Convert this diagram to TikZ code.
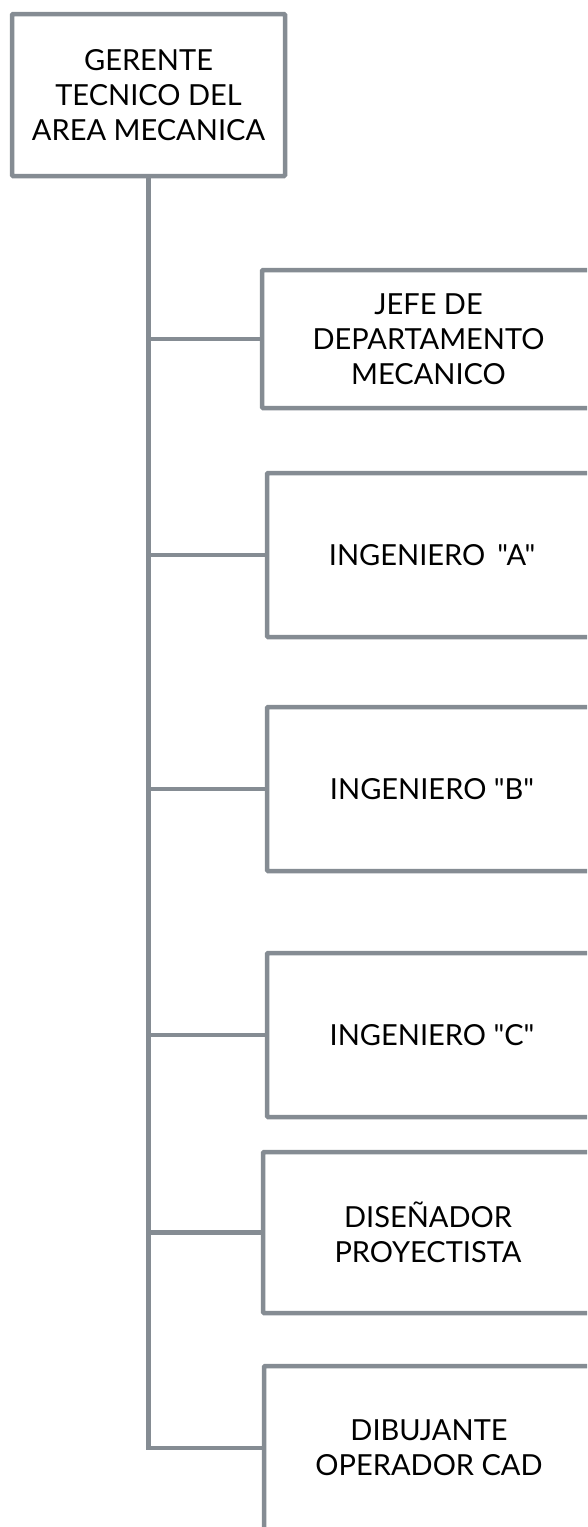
\documentclass[tikz,border=0pt]{standalone}
\usepackage{fontspec}
% plain straight quotes: no TeX input mapping
\setmainfont{Lato}[Ligatures=TeXOff]
\definecolor{frame}{RGB}{133,140,147}
\begin{document}
\begin{tikzpicture}[x=1pt,y=-1pt,
  post/.style={draw=frame, line width=4.5pt, fill=white, rounded corners=1pt,
    inner sep=0pt, outer sep=0pt, align=center, text=black,
    font=\fontsize{29}{35}\selectfont},
  link/.style={draw=frame, line width=4.5pt}]
  \useasboundingbox (0,0) rectangle (587,1527);
  \clip (0,0) rectangle (587,1527);

  % head of the area
  \node[post, minimum width=273pt, minimum height=162pt] (ger) at (148.5,95)
    {GERENTE\\TECNICO DEL\\AREA MECANICA};

  % subordinate posts
  \node[post, minimum width=333pt, minimum height=138pt] (jefe) at (428.5,339)
    {JEFE DE\\DEPARTAMENTO\\MECANICO};
  \node[post, minimum width=330pt, minimum height=164pt] (inga) at (432,555)
    {INGENIERO\hspace{12pt}"A"};
  \node[post, minimum width=330pt, minimum height=164pt] (ingb) at (432,789)
    {INGENIERO "B"};
  \node[post, minimum width=330pt, minimum height=164pt] (ingc) at (432,1035)
    {INGENIERO "C"};
  \node[post, minimum width=330pt, minimum height=161pt] (dis) at (428,1232.5)
    {DISEÑADOR\\PROYECTISTA};
  \node[post, minimum width=330pt, minimum height=164pt] (dib) at (429,1448)
    {DIBUJANTE\\OPERADOR CAD};

  % trunk and branches
  \draw[link] (ger.south) |- (dib.west);
  \foreach \n in {jefe,inga,ingb,ingc,dis}
    \draw[link] (ger.south |- \n.west) -- (\n.west);
\end{tikzpicture}
\end{document}
